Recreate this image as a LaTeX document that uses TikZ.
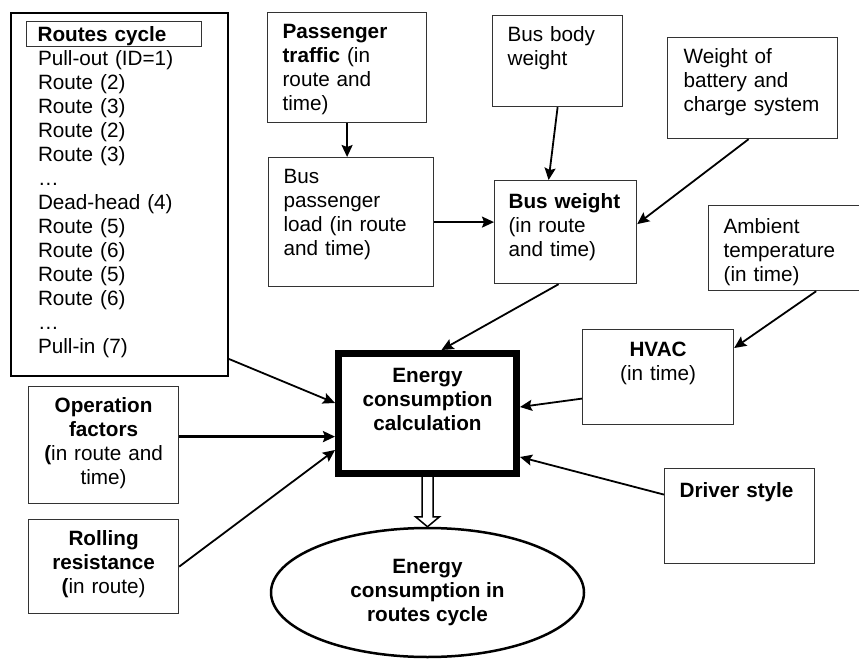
\documentclass[tikz,border=0pt]{standalone}
\usepackage{fontspec}
\setmainfont{Liberation Sans}
\usetikzlibrary{arrows.meta,shapes.geometric}
\newcommand{\dgfont}{\fontsize{20.7pt}{24pt}\selectfont}

\begin{document}
\begin{tikzpicture}[
    x=1pt, y=-1pt,
    box/.style={rectangle, draw=black!80, line width=1.2pt, anchor=north west,
                inner xsep=15pt, inner ysep=0pt, text height=26pt,
                align=left, font=\dgfont},
    cbox/.style={box, align=center},
    arr/.style={-{Stealth[length=12pt,width=11pt,inset=2pt]}, line width=1.8pt},
    hollow/.style={draw, line width=1.5pt, fill=white, line join=miter}
]
    \useasboundingbox (0,0) rectangle (859,660);

    % routes cycle
    \node[box, line width=2pt, draw=black, inner xsep=27pt, text width=163pt,
          text height=53pt, text depth=310pt] (routes) at (10,12)
        {Pull-out (ID=1)\\Route (2)\\Route (3)\\Route (2)\\Route (3)\\…\\Dead-head (4)\\
         Route (5)\\Route (6)\\Route (5)\\Route (6)\\…\\Pull-in (7)};
    \node[box, inner xsep=11pt, text width=153pt, text height=20pt, text depth=5pt]
        (rtitle) at (26,21) {\textbf{Routes cycle}};

    % weight inputs
    \node[box, text width=129pt, text depth=84pt] (ptraf) at (267,12)
        {\textbf{Passenger}\\\textbf{traffic} (in\\route and\\time)};
    \node[box, text width=135pt, text depth=103pt] (pload) at (268,157)
        {Bus\\passenger\\load (in route\\and time)};
    \node[box, text width=100pt, text depth=65pt] (bbody) at (492,15)
        {Bus body\\weight};
    \node[box, inner xsep=14pt, text width=114pt, text height=28pt, text depth=75pt]
        (busw) at (494,180) {\textbf{Bus weight}\\(in route\\and time)};
    \node[box, inner xsep=16pt, text width=138pt, text depth=75pt] (batt) at (667,37)
        {Weight of\\battery and\\charge system};

    % climate and driver
    \node[box, text width=126pt, text height=28pt, text depth=57pt] (amb) at (708,205)
        {Ambient\\temperature\\(in time)};
    \node[cbox, text width=121pt, text height=27pt, text depth=68pt] (hvac) at (582,329)
        {\textbf{HVAC}\\(in time)};
    \node[box, text width=120pt, text height=29pt, text depth=66pt] (driver) at (664,468)
        {\textbf{Driver style}};

    % other factors
    \node[cbox, inner xsep=10pt, text width=130pt, text depth=91pt] (opf) at (28,386)
        {\textbf{Operation}\\\textbf{factors}\\\textbf{(}in route and\\time)};
    \node[cbox, inner xsep=10pt, text width=130pt, text depth=68pt] (roll) at (28,519)
        {\textbf{Rolling}\\\textbf{resistance}\\\textbf{(}in route)};

    % calculation and result
    \node[cbox, draw=black, line width=7pt, inner xsep=10pt, text width=158pt,
          text height=28.5pt, text depth=91.5pt, font=\dgfont\bfseries] (calc) at (335,350)
        {Energy\\consumption\\calculation};
    \node[ellipse, draw, line width=2.5pt, minimum width=313pt, minimum height=129pt,
          inner sep=0pt, align=center, font=\dgfont\bfseries] (res) at (427.5,592.5)
        {Energy\\consumption in\\routes cycle};
    \draw[hollow] ([xshift=-5.5pt]calc.south) -- ([xshift=-5.5pt,yshift=10pt]res.north)
        -- ([xshift=-12pt,yshift=10pt]res.north) -- (res.north)
        -- ([xshift=12pt,yshift=10pt]res.north) -- ([xshift=5.5pt,yshift=10pt]res.north)
        -- ([xshift=5.5pt]calc.south);

    \draw[arr] (ptraf.south) -- (ptraf.south |- pload.north);
    \draw[arr] (pload.east) -- (pload.east -| busw.west);
    \draw[arr] (bbody.south) -- ([xshift=-17pt]busw.north);
    \draw[arr] ([xshift=-4pt]batt.south) -- ([yshift=8pt]busw.east);
    \draw[arr] ([xshift=-49pt]amb.south east) -- ([yshift=-19pt]hvac.north east);
    \draw[arr] ([xshift=-7pt]busw.south) -- ([xshift=14pt]calc.north);
    \draw[arr] ([yshift=-21.5pt]hvac.west) -- ([yshift=6.5pt]calc.east);
    \draw[arr] ([yshift=21.5pt]driver.west) -- ([yshift=-43.5pt]calc.east);
    \draw[arr] ([yshift=18pt]routes.south east) -- ([yshift=10.5pt]calc.west);
    \draw[arr, line width=3.5pt] ([yshift=8.5pt]opf.east) -- ([yshift=8.5pt]opf.east -| calc.west);
    \draw[arr] (roll.east) -- ([yshift=-36.5pt]calc.west);
\end{tikzpicture}
\end{document}
